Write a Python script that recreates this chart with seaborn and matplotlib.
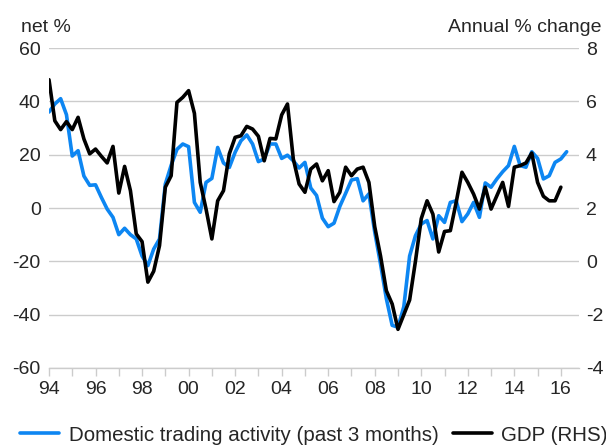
import matplotlib
matplotlib.use("Agg")
import matplotlib.pyplot as plt
import seaborn as sns
import numpy as np
import pandas as pd
from matplotlib.lines import Line2D
from matplotlib.ticker import MultipleLocator

# ---- data (quarterly, starting 1994 Q1) ----
start_year = 1994
trading_activity = [
    36, 39, 41, 35,
    19.5, 21.5, 12, 8.5,
    8.7, 4, -0.4, -3.5,
    -10, -7.6, -10, -11.6,
    -18, -21.6, -15.4, -11.6,
    9, 16, 22, 24,
    23, 2.1, -1.6, 9.6,
    11.1, 22.7, 16.9, 15.2,
    20.9, 25.2, 27.4, 24,
    17.4, 18.4, 24, 24,
    18.6, 19.8, 17.7, 15,
    17.1, 7.5, 4.7, -3.8,
    -7, -5.7, 0.6, 5.5,
    10.5, 11, 2.7, 5.3,
    -9, -21, -34, -44,
    -44.7, -37, -18, -10.4,
    -6, -4.7, -11.6, -2.9,
    -5.4, 2.1, 2.7, -5.1,
    -2.2, 2.1, -3.5, 9.4,
    7.8, 10.9, 13.6, 15.9,
    23.1, 15.9, 15.3, 21.1,
    18.6, 10.9, 12.1, 17.1,
    18.4, 21.1,
]
gdp_growth = [
    6.81, 5.27, 4.94, 5.24,
    4.94, 5.40, 4.59, 4.03,
    4.21, 3.94, 3.69, 4.31,
    2.56, 3.56, 2.65, 1.03,
    0.74, -0.78, -0.37, 0.59,
    2.78, 3.21, 5.96, 6.15,
    6.40, 5.55, 2.96, 1.96,
    0.84, 2.27, 2.65, 4.03,
    4.65, 4.71, 5.06, 4.96,
    4.69, 3.77, 4.61, 4.59,
    5.49, 5.90, 3.84, 2.90,
    2.59, 3.46, 3.65, 3.02,
    3.40, 2.24, 2.59, 3.53,
    3.21, 3.46, 3.53, 2.96,
    1.3, 0.2, -1.1, -1.6,
    -2.55, -2.0, -1.45, 0.0,
    1.6, 2.27, 1.77, 0.35,
    1.12, 1.15, 2.21, 3.34,
    2.96, 2.52, 1.96, 2.78,
    1.96, 2.46, 2.96, 2.06,
    3.53, 3.59, 3.69, 4.06,
    2.96, 2.44, 2.27, 2.27,
    2.78,
]
x_ticks = list(range(1994, 2017, 2))
x_tick_labels = ["94", "96", "98", "00", "02", "04", "06", "08", "10", "12", "14", "16"]
left_ticks = [-60, -40, -20, 0, 20, 40, 60]
right_ticks = [-4, -2, 0, 2, 4, 6, 8]
series_names = ["Domestic trading activity (past 3 months)", "GDP (RHS)"]

BLUE = "#0d86f2"
GRID = "#cccccc"

sns.set_theme(style="white")
plt.rcParams['font.family'] = ['Liberation Sans', 'DejaVu Sans']
FS = 14

df_ta = pd.DataFrame({"date": start_year + np.arange(len(trading_activity)) / 4,
                      "value": trading_activity})
df_gdp = pd.DataFrame({"date": start_year + np.arange(len(gdp_growth)) / 4,
                       "value": gdp_growth})

fig = plt.figure(figsize=(6.06, 4.48), dpi=100)
W, H = 606, 448
ax = fig.add_axes([49 / W, 1 - 368 / H, (579 - 49) / W, (368 - 48) / H])

sns.lineplot(data=df_ta, x="date", y="value", ax=ax, color=BLUE, lw=2.6)
ax.set_ylim(-60, 60)
ax.set_xlim(1994, 2016.78)
ax.set_yticks(left_ticks)
ax.set_yticklabels([str(t) for t in left_ticks])
ax.set_xticks(x_ticks)
ax.set_xticklabels(x_tick_labels)
ax.xaxis.set_minor_locator(MultipleLocator(1))
ax.yaxis.grid(True, color=GRID, lw=1)
ax.xaxis.grid(False)
for s in ["left", "right", "top"]:
    ax.spines[s].set_visible(False)
ax.spines["bottom"].set_color(GRID)
ax.spines["bottom"].set_linewidth(1)
ax.tick_params(axis="x", which="both", direction="out", length=6, width=1,
               color=GRID, labelsize=FS, pad=3, bottom=True)
ax.tick_params(axis="y", length=0, labelsize=FS, pad=6)
ax.set_xlabel("")
ax.set_ylabel("")

ax2 = ax.twinx()
sns.lineplot(data=df_gdp, x="date", y="value", ax=ax2, color="black", lw=2.6)
ax2.set_ylim(-4, 8)
ax2.set_yticks(right_ticks)
ax2.set_yticklabels([str(t) for t in right_ticks])
ax2.grid(False)
for s in ["left", "right", "top", "bottom"]:
    ax2.spines[s].set_visible(False)
ax2.tick_params(axis="y", length=0, labelsize=FS, pad=5)
ax2.set_xlabel("")
ax2.set_ylabel("")

fig.text(21 / W, 1 - 27 / H, "net %", fontsize=FS, ha="left", va="center")
fig.text(601 / W, 1 - 27 / H, "Annual % change", fontsize=FS, ha="right", va="center")

handles = [Line2D([], [], color=BLUE, lw=2.6), Line2D([], [], color="black", lw=2.6)]
fig.legend(handles, series_names, loc="center", bbox_to_anchor=(0.518, 1 - 435 / H),
           ncol=2, frameon=False, fontsize=14.8, handlelength=1.9,
           handletextpad=0.45, columnspacing=0.7, borderaxespad=0)

fig.savefig("out.png", dpi=100)
